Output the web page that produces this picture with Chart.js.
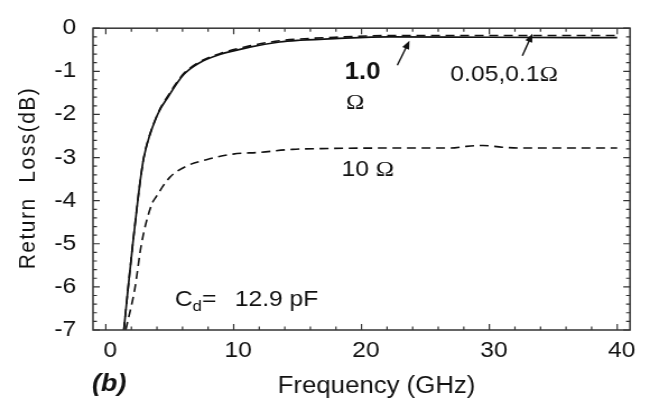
<!DOCTYPE html>
<html>
<head>
<meta charset="utf-8">
<script src="https://cdn.jsdelivr.net/npm/chart.js@4"></script>
<style>
  html, body { margin: 0; padding: 0; background: #fff; }
</style>
</head>
<body>
<!-- drawn on a 580px wide canvas and shown 650px wide, so the Helvetica-like text comes out slightly wide -->
<canvas id="returnLoss" width="580" height="405" style="width:650px;height:405px"></canvas>
<script>
// frequency in GHz, return loss in dB
const freqLow = [1.41, 1.74, 2.11, 2.5, 2.71, 2.97, 4.05, 4.9, 6.04, 7.34, 8.91, 11.25, 13.6, 15.2, 17.9, 22.2, 30, 40];
const rlLowOhm = [-7.0, -6.04, -5.0, -4.0, -3.5, -3.0, -1.99, -1.55, -1.07, -0.78, -0.59, -0.41, -0.29, -0.25, -0.21, -0.17, -0.17, -0.17];
const rl1Ohm = [-7.0, -6.04, -5.0, -4.0, -3.5, -3.0, -2.0, -1.58, -1.09, -0.80, -0.61, -0.44, -0.32, -0.28, -0.24, -0.20, -0.21, -0.22];
const freq10 = [1.56, 2.27, 2.79, 3.57, 3.96, 5.0, 6.3, 7.87, 9.95, 12.0, 14.6, 17.5, 22.0, 27.0, 28.2, 29.5, 31.0, 32.5, 40];
const rl10Ohm = [-7.0, -6.04, -5.0, -4.1, -3.9, -3.46, -3.2, -3.05, -2.92, -2.88, -2.81, -2.79, -2.78, -2.78, -2.74, -2.72, -2.76, -2.78, -2.78];

const xTicks = [0, 10, 20, 30, 40];
const yTicks = [0, -1, -2, -3, -4, -5, -6, -7];

const FONT = '"Liberation Sans", Arial, sans-serif';
const SERIF = '"Liberation Serif", "Times New Roman", serif';
const INK = '#111';

function pts(xs, ys) {
    return xs.map(function (f, i) {
        return { x: f, y: ys[i] };
    });
}

function arrow(ctx, x0, y0, x1, y1) {
    var ang = Math.atan2(y1 - y0, x1 - x0);
    ctx.beginPath();
    ctx.moveTo(x0, y0);
    ctx.lineTo(x1 - 6 * Math.cos(ang), y1 - 6 * Math.sin(ang));
    ctx.stroke();
    ctx.beginPath();
    ctx.moveTo(x1, y1);
    ctx.lineTo(x1 - 9 * Math.cos(ang - 0.38), y1 - 9 * Math.sin(ang - 0.38));
    ctx.lineTo(x1 - 9 * Math.cos(ang + 0.38), y1 - 9 * Math.sin(ang + 0.38));
    ctx.closePath();
    ctx.fill();
}

// box, inward ticks on all four sides, labels and arrows
const frameAndNotes = {
    id: "frameAndNotes",
    afterDraw: function (chart) {
        var ctx = chart.ctx;
        var a = chart.chartArea;
        var x = chart.scales.x;
        var y = chart.scales.y;

        ctx.save();
        ctx.strokeStyle = "#333";
        ctx.lineWidth = 1.5;
        ctx.strokeRect(a.left, a.top, a.right - a.left, a.bottom - a.top);

        ctx.lineWidth = 1.2;
        ctx.beginPath();
        for (var v = 0; v <= 40; v += 2) {
            var px = x.getPixelForValue(v);
            var len = v % 10 === 0 ? 6 : 3.5;
            ctx.moveTo(px, a.bottom);
            ctx.lineTo(px, a.bottom - len);
            ctx.moveTo(px, a.top);
            ctx.lineTo(px, a.top + len);
        }
        for (var i = 0; i <= 35; i++) {
            var py = y.getPixelForValue(-i / 5);
            var l2 = i % 5 === 0 ? 6 : 3.5;
            ctx.moveTo(a.left, py);
            ctx.lineTo(a.left + l2, py);
            ctx.moveTo(a.right, py);
            ctx.lineTo(a.right - l2, py);
        }
        ctx.stroke();

        ctx.fillStyle = INK;
        ctx.strokeStyle = INK;
        ctx.textBaseline = "middle";

        // 1.0 Ω
        ctx.textAlign = "center";
        ctx.font = "bold 23px " + FONT;
        ctx.fillText("1.0", x.getPixelForValue(20.08), y.getPixelForValue(-1.04));
        ctx.font = "22px " + SERIF;
        ctx.fillText("\u03A9", x.getPixelForValue(19.5), y.getPixelForValue(-1.74));

        // 0.05,0.1Ω
        ctx.textAlign = "left";
        ctx.font = "22px " + FONT;
        var lx = x.getPixelForValue(26.95);
        var ly = y.getPixelForValue(-1.09);
        ctx.fillText("0.05,0.1", lx, ly);
        var w = ctx.measureText("0.05,0.1").width;
        ctx.font = "22px " + SERIF;
        ctx.fillText("\u03A9", lx + w, ly);

        // 10 Ω
        ctx.font = "22px " + FONT;
        lx = x.getPixelForValue(18.44);
        ly = y.getPixelForValue(-3.29);
        ctx.fillText("10 ", lx, ly);
        w = ctx.measureText("10 ").width;
        ctx.font = "22px " + SERIF;
        ctx.fillText("\u03A9", lx + w, ly);

        // C_d = 12.9 pF
        ctx.textBaseline = "alphabetic";
        ctx.font = "22px " + FONT;
        lx = x.getPixelForValue(5.39);
        ly = y.getPixelForValue(-6.45);
        ctx.fillText("C", lx, ly);
        lx += ctx.measureText("C").width;
        ctx.font = "15px " + FONT;
        ctx.fillText("d", lx, ly + 5);
        lx += ctx.measureText("d").width;
        ctx.font = "22px " + FONT;
        ctx.fillText("=", lx, ly);
        ctx.fillText("12.9 pF", x.getPixelForValue(10.08), ly);

        // arrows
        ctx.lineWidth = 1.4;
        arrow(ctx, x.getPixelForValue(22.8), y.getPixelForValue(-0.86),
            x.getPixelForValue(23.75), y.getPixelForValue(-0.29));
        arrow(ctx, x.getPixelForValue(32.58), y.getPixelForValue(-0.64),
            x.getPixelForValue(33.36), y.getPixelForValue(-0.13));

        // axis titles and panel tag
        ctx.textBaseline = "middle";
        ctx.textAlign = "center";
        ctx.font = "23px " + FONT;
        ctx.fillText("Frequency (GHz)", 336, 387);

        ctx.textAlign = "left";
        ctx.font = "italic bold 24px " + FONT;
        ctx.fillText("(b)", 82, 384);

        ctx.save();
        ctx.translate(25.4, 178);
        ctx.rotate(-Math.PI / 2);
        ctx.textAlign = "center";
        ctx.font = "21px " + FONT;
        ctx.letterSpacing = "1.5px";
        ctx.fillText("Return  Loss(dB)", 0, 0);
        ctx.restore();

        ctx.restore();
    },
};

var tickFont = { family: FONT, size: 22 };

new Chart(document.getElementById("returnLoss"), {
    type: "line",
    data: {
        datasets: [
            {
                label: "0.05, 0.1 \u03A9",
                data: pts(freqLow, rlLowOhm),
                borderColor: INK,
                borderWidth: 1.6,
                borderDash: [8, 5],
            },
            {
                label: "1.0 \u03A9",
                data: pts(freqLow, rl1Ohm),
                borderColor: INK,
                borderWidth: 1.7,
            },
            {
                label: "10 \u03A9",
                data: pts(freq10, rl10Ohm),
                borderColor: INK,
                borderWidth: 1.6,
                borderDash: [8, 5],
            },
        ],
    },
    options: {
        responsive: false,
        devicePixelRatio: 1,
        animation: false,
        layout: { padding: { top: 14, right: 17.85, left: 0, bottom: 0 } },
        elements: {
            point: { radius: 0 },
            line: { cubicInterpolationMode: "monotone", fill: false },
        },
        plugins: {
            legend: { display: false },
            tooltip: { enabled: false },
        },
        scales: {
            x: {
                type: "linear",
                min: -1,
                max: 41,
                grid: { display: false, drawTicks: false },
                border: { display: false },
                afterBuildTicks: function (s) {
                    s.ticks = xTicks.map(function (v) { return { value: v }; });
                },
                afterFit: function (s) { s.height = 75; },
                ticks: {
                    padding: 8,
                    labelOffset: 4,
                    maxRotation: 0,
                    autoSkip: false,
                    color: INK,
                    font: tickFont,
                },
            },
            y: {
                min: -7,
                max: 0,
                grid: { display: false, drawTicks: false },
                border: { display: false },
                afterBuildTicks: function (s) {
                    s.ticks = yTicks.map(function (v) { return { value: v }; });
                },
                afterFit: function (s) { s.width = 83; },
                ticks: {
                    padding: 15,
                    autoSkip: false,
                    color: INK,
                    font: tickFont,
                },
            },
        },
    },
    plugins: [frameAndNotes],
});
</script>
</body>
</html>
